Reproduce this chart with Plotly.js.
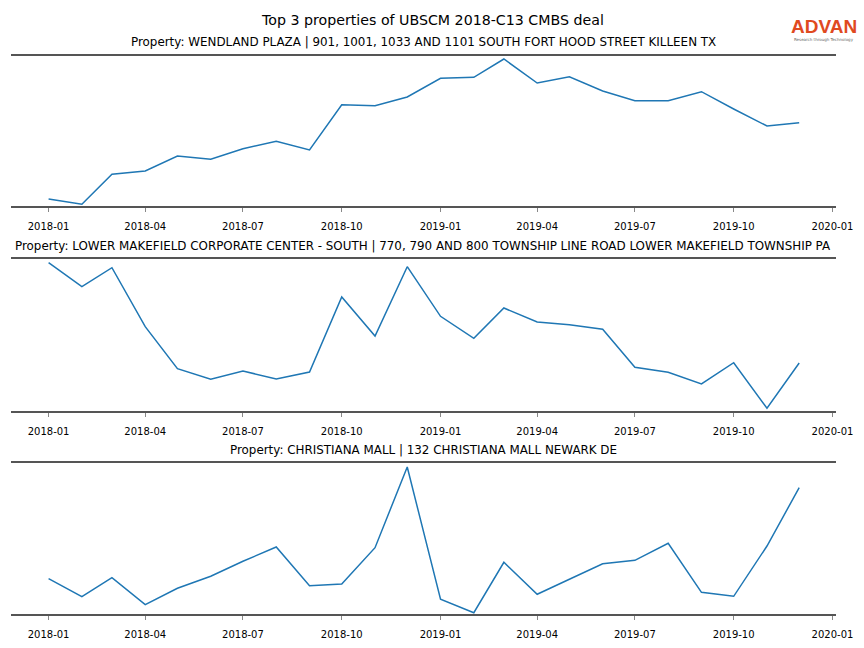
<!DOCTYPE html>
<html>
<head>
<meta charset="utf-8">
<script src="https://cdn.plot.ly/plotly-3.0.1.min.js"></script>
<style>html,body{margin:0;padding:0;background:#fff;}#chart{width:864px;height:648px;}</style>
</head>
<body>
<div id="chart"></div>
<script>
const months = ["2018-01-01","2018-02-01","2018-03-01","2018-04-01","2018-05-01","2018-06-01","2018-07-01","2018-08-01","2018-09-01","2018-10-01","2018-11-01","2018-12-01",
"2019-01-01","2019-02-01","2019-03-01","2019-04-01","2019-05-01","2019-06-01","2019-07-01","2019-08-01","2019-09-01","2019-10-01","2019-11-01","2019-12-01"];

const wendland = [6.7,1.4,31.4,34.7,49.7,46.4,57,64.4,55.7,101,100,108.7,127.4,128.4,146.7,122.7,129,114.7,105,105,114,96.7,79.7,83];
const makefield = [147.8,123.8,142.8,83.8,41.8,31.2,39.5,31.5,38.5,113.5,74.5,143.8,94.2,72.2,102.5,88.5,85.8,81.2,43.2,38.2,26.5,47.8,2.2,47.5];
const christiana = [35.6,17.6,36.6,9.6,26,38,53,67.3,28.6,30.3,66.6,147.3,15,1.6,52,20,35,50.6,54,71,22,18,68.3,126.6];

const mainTitle = "Top 3 properties of UBSCM 2018-C13 CMBS deal";
const panelTitles = [
  "Property: WENDLAND PLAZA | 901, 1001, 1033 AND 1101 SOUTH FORT HOOD STREET KILLEEN TX",
  "Property: LOWER MAKEFIELD CORPORATE CENTER - SOUTH | 770, 790 AND 800 TOWNSHIP LINE ROAD LOWER MAKEFIELD TOWNSHIP PA",
  "Property: CHRISTIANA MALL | 132 CHRISTIANA MALL NEWARK DE"
];

const H = 648, W = 864;
const xDom = [11/W, 835.7/W];
const panels = [
  {top:55.7, bottom:205.7, data:wendland},
  {top:259, bottom:410.5, data:makefield},
  {top:462.7, bottom:614.3, data:christiana}
];
const font = "DejaVu Sans, Liberation Sans, sans-serif";
const traces = [];
const layout = {
  width: W, height: H,
  margin:{l:0,r:0,t:0,b:0},
  paper_bgcolor:"#fff", plot_bgcolor:"#fff",
  showlegend:false,
  font:{family:font, color:"#000"},
  annotations:[]
};
const titleY = [42, 246, 450];
panels.forEach((p,i)=>{
  const n = i===0 ? "" : String(i+1);
  traces.push({x:months, y:p.data, type:"scatter", mode:"lines",
    line:{color:"#1f77b4", width:1.5}, xaxis:"x"+n, yaxis:"y"+n, hoverinfo:"skip"});
  layout["xaxis"+n] = {
    domain:xDom, anchor:"y"+n, type:"date",
    range:["2017-11-27","2020-01-04"],
    tickformat:"%Y-%m", dtick:"M3", tick0:"2018-01-01",
    ticks:"outside", ticklen:4, tickwidth:1, tickcolor:"#888",
    ticklabelstandoff:6,
    showline:true, mirror:true, linecolor:"#555", linewidth:2,
    showgrid:false, zeroline:false,
    tickfont:{family:font, size:10, color:"#000"}
  };
  layout["yaxis"+n] = {
    domain:[(H-p.bottom)/H, (H-p.top)/H], anchor:"x"+n,
    range:[0, p.bottom-p.top],
    showticklabels:false, showgrid:false, zeroline:false, showline:false, ticks:""
  };
  layout.annotations.push({text:panelTitles[i], xref:"paper", yref:"paper",
    x:(xDom[0]+xDom[1])/2, y:1-titleY[i]/H, xanchor:"center", yanchor:"middle",
    showarrow:false, font:{family:font, size:11.9, color:"#000"}});
});
layout.annotations.push({text:mainTitle, xref:"paper", yref:"paper", x:0.5, y:1-20/H,
  xanchor:"center", yanchor:"middle", showarrow:false, font:{family:font, size:14.2, color:"#000"}});
layout.annotations.push({text:"ADVAN", xref:"paper", yref:"paper", x:824/W, y:1-26.5/H,
  xanchor:"center", yanchor:"middle", showarrow:false, font:{family:"Liberation Sans, Arial, sans-serif", size:19, weight:600, color:"#E04A1F"}});
layout.annotations.push({text:"Research through Technology", xref:"paper", yref:"paper", x:824/W, y:1-39.5/H,
  xanchor:"center", yanchor:"middle", showarrow:false, font:{family:font, size:4, color:"#666"}});

Plotly.newPlot("chart", traces, layout, {staticPlot:true, displayModeBar:false});
</script>
</body>
</html>
